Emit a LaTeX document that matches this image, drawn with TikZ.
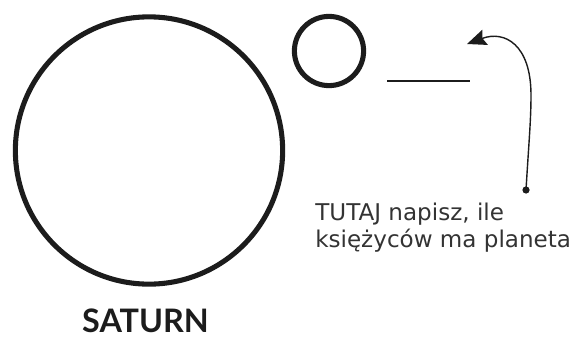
\documentclass[tikz,border=0pt]{standalone}
\usepackage{fontspec}
\setmainfont{DejaVu Sans}
\newfontfamily\titlefont{Lato}
\usepackage{xcolor}
\usetikzlibrary{arrows.meta, positioning}

\definecolor{ink}{HTML}{1C1C1C}

\begin{document}
\begin{tikzpicture}[
        x=0.025cm, y=-0.025cm,
        >={Stealth[length=0.48cm, width=0.4cm, inset=0.07cm]},
        planet/.style={
            circle,
            draw=ink,
            line width=3.6pt,
            inner sep=0pt
        },
        blank/.style={
            draw=ink,
            line width=2.1pt
        },
        pin/.style={
            circle,
            fill=ink,
            inner sep=0pt,
            minimum size=0.18cm
        },
        note/.style={
            text=ink!90,
            align=left,
            inner sep=0pt,
            font=\fontsize{16.4}{19.1}\selectfont
        },
        title/.style={
            text=ink,
            inner sep=0pt,
            font=\titlefont\fontsize{23}{26}\selectfont\bfseries
        }
    ]
        \useasboundingbox (0,0) rectangle (586,336);

        \node[planet, minimum size=6.68cm] (saturn) at (149,150.5) {};
        \node[planet, minimum size=1.73cm] (moon) at (329,51) {};

        % linia do wpisania liczby
        \coordinate (blankL) at (387,81);
        \coordinate (blankR) at (470,81);
        \draw[blank] (blankL) -- (blankR);

        \node[pin] (dot) at (526,190) {};
        \coordinate (bend) at (531,95);
        \coordinate (tip) at (467,44);
        \draw[->, draw=ink, line width=1pt]
            (dot.center) .. controls (529,140) and (531,120) .. (bend)
            .. controls (531,45) and (505,30) .. (tip);

        \node[note, anchor=base west] (hint) at (315,247) {TUTAJ napisz, ile\\księżyców ma planeta};

        \node[title, anchor=base] (name) at (145.5,332) {SATURN};

    \end{tikzpicture}
\end{document}
